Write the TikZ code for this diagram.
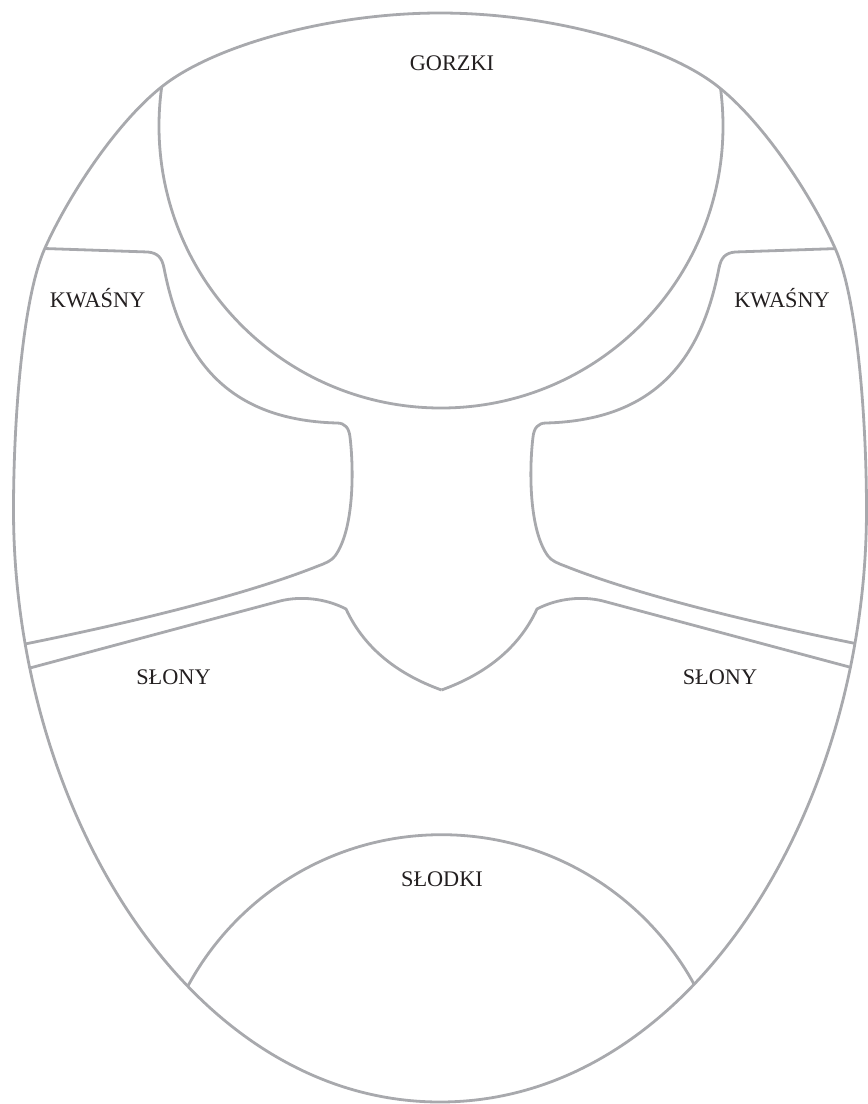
\documentclass[tikz,border=0pt]{standalone}
\usepackage{fontspec}
\setmainfont{Liberation Serif}
\definecolor{lg}{RGB}{168,169,173}
\definecolor{tx}{RGB}{35,31,32}
\tikzset{
  outline/.style={draw=lg, line width=2.8pt, line join=round},
  lbl/.style={text=tx, font=\fontsize{22.3}{25}\selectfont, anchor=base, inner sep=0pt}
}
\def\outerpath{(440,13) .. controls (330,13) and (216,45) .. (164,85)
  .. controls (118.5,120) and (69.75,193) .. (45,248)
  .. controls (22.5,298) and (13.5,420) .. (13.5,510)
  .. controls (13.5,810) and (190,1102) .. (440,1102)
  .. controls (690,1102) and (866.5,810) .. (866.5,510)
  .. controls (866.5,420) and (857.5,298) .. (835,248)
  .. controls (810.25,193) and (761.5,120) .. (716,85)
  .. controls (664,45) and (550,13) .. (440,13) -- cycle}
\def\kwpath{(0,247) -- (148,252) .. controls (158,253) and (162,258) .. (164,268)
  .. controls (180,350) and (220,420) .. (337,423)
  .. controls (345,423) and (349,428) .. (350,437)
  .. controls (354,470) and (354,530) .. (335,556)
  .. controls (331,561) and (326,563) .. (318,566)
  .. controls (240,597) and (120,625) .. (20,645) -- (0,649)}
\def\slpath{(0,676) -- (280,601) .. controls (300,596) and (325,598) .. (346,609)
  .. controls (365,650) and (400,675) .. (441.5,690)}
\begin{document}
\begin{tikzpicture}[x=1pt,y=-1pt]
\useasboundingbox (0,0) rectangle (868,1104);
\begin{scope}
  \clip \outerpath;
  \draw[outline] (441,126) circle (282);
  \draw[outline] (441.5,1122.7) circle (288);
  \draw[outline] \kwpath;
  \draw[outline] \slpath;
  \begin{scope}[shift={(883,0)}, xscale=-1]
    \draw[outline] \kwpath;
    \draw[outline] \slpath;
  \end{scope}
\end{scope}
\draw[outline] \outerpath;
\node[lbl] (gorzki) at (452,70) {GORZKI};
\node[lbl] (kwl) at (97.5,307.5) {KWAŚNY};
\node[lbl] (kwr) at (782,307.5) {KWAŚNY};
\node[lbl] (sll) at (173.5,684) {SŁONY};
\node[lbl] (slr) at (720,684) {SŁONY};
\node[lbl] (slodki) at (442,886) {SŁODKI};
\end{tikzpicture}
\end{document}
